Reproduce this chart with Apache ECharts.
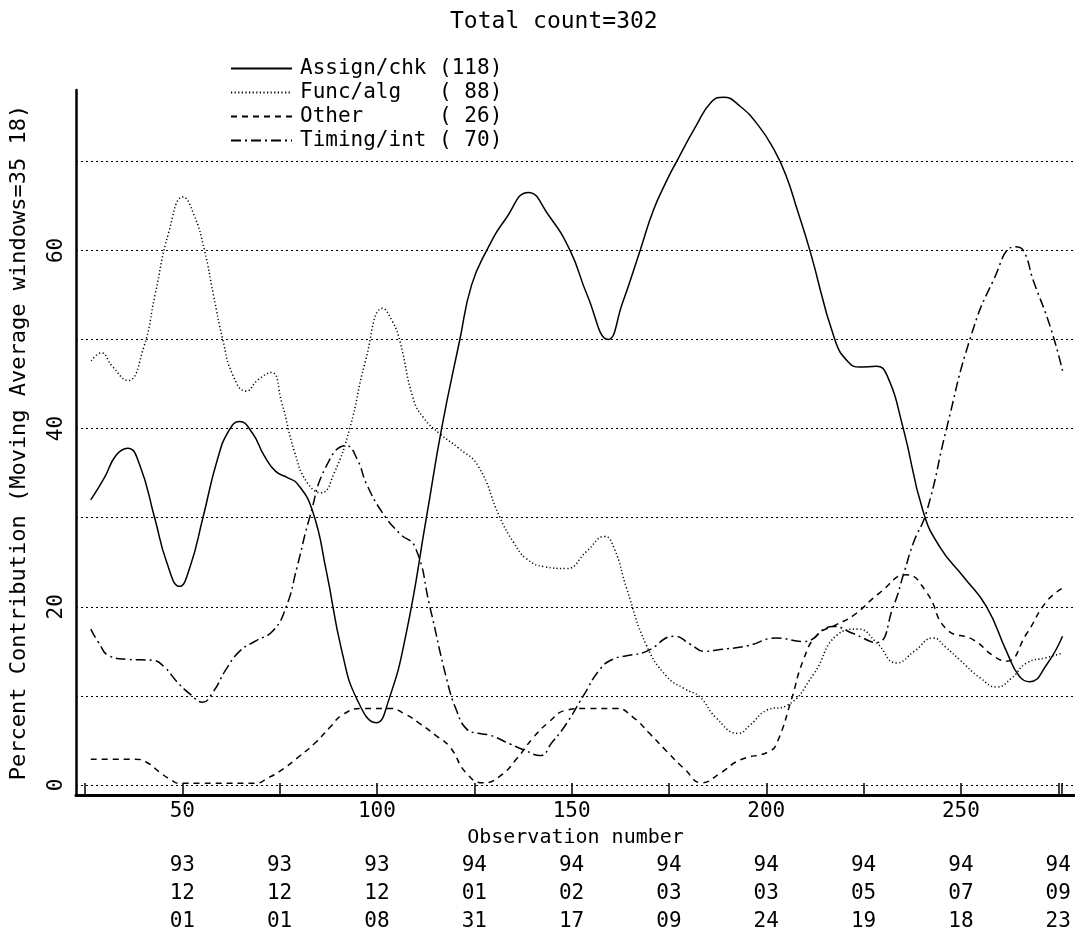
<!DOCTYPE html>
<html><head><meta charset="utf-8">
<script src="https://cdn.jsdelivr.net/npm/echarts@6/dist/echarts.min.js"></script>
<style>html,body{margin:0;padding:0;background:#fff}#c{width:1075px;height:933px}</style>
</head><body><div id="c"></div>
<script>
const chartTitle = 'Total count=302';
const seriesNames = ['Assign/chk', 'Func/alg', 'Other', 'Timing/int'];
const seriesCounts = [118, 88, 26, 70];

const assignChk = [[26.5,32],[30,34.5],[33,37],[36,37.8],[39,36],[42.9,30],[46,25],[49.3,22.3],[52,24.5],[55.3,30],[59,36.5],[62,39.8],[64.7,40.8],[68,39.5],[71,37],[74,35.2],[77,34.5],[79.6,33.8],[83.5,30.7],[87,24],[91,15],[95,9.5],[99.8,7.0],[103,9.5],[107.5,17],[112.7,30],[116.6,40],[121.3,50],[124.3,56.1],[128.2,60],[133,63.5],[138.9,66.5],[144,64],[149.6,60],[154,55],[159.4,50],[163,54],[167.6,60],[171,64.5],[174.4,67.8],[177,70],[182,74],[186,76.7],[189,77.2],[193.2,76.2],[198,74],[202,71.3],[205,68.5],[208,64.5],[211.2,60],[217.6,50],[221,47.5],[224,46.9],[228.3,47],[231,46],[235.2,40],[240.3,30.7],[244.6,26.7],[250.6,23.4],[256.6,20],[261.7,15],[265,12.2],[267.7,11.6],[272,13.5],[276.1,16.7]];

const funcAlg = [[26.6,47.6],[29.2,48.5],[32,47],[36,45.4],[40,49],[43,55],[46.5,62],[50.2,66.0],[53,64],[55.7,60],[58,55],[60.4,50],[63,46],[66.4,44.2],[69.5,45.5],[72.9,46.3],[75.5,43],[78.9,37.3],[82,34],[85.7,32.8],[89,35],[93,40],[97,47.5],[101.5,53.5],[104,52],[105.9,49.8],[109.3,43.4],[112,41.2],[116.2,39.4],[121,37.8],[126,35.8],[131.6,30],[135,27.3],[138.4,25.4],[143,24.5],[148.7,24.3],[153.8,26.2],[158.5,27.9],[161,26.5],[164.1,22.1],[169.2,15.7],[174.4,12.2],[179,10.8],[182.9,9.9],[187,7.6],[192.8,5.8],[196,6.8],[200.1,8.4],[205.2,8.9],[212.1,12.4],[218.1,16.8],[223.6,17.5],[228.3,16],[233.5,13.7],[238,15],[242.9,16.5],[246,15.5],[249.8,14],[255,12],[259.2,11],[263,12],[266.9,13.7],[272,14.3],[276.1,14.8]];

const other = [[26.5,2.9],[38,2.9],[41,2.5],[44,1.5],[47,0.6],[49.2,0.2],[55,0.2],[68.9,0.2],[72,0.8],[74.9,1.5],[80,3.2],[84.3,4.8],[88,6.5],[91.2,7.9],[96.3,8.6],[103.2,8.6],[107.5,7.9],[111,6.9],[115,5.6],[118.7,4.3],[123,1.3],[127.3,0.25],[131.6,1.0],[136,3],[140.1,5.3],[144,7],[148.7,8.4],[153.8,8.6],[161.5,8.6],[165.8,7.6],[170,5.8],[174.4,3.8],[179,1.8],[183.4,0.25],[188.1,1.3],[193.2,2.8],[200.9,3.8],[203,5],[206.4,9.5],[209.5,14],[213,16.8],[218,18],[222.3,19],[229.2,21.6],[236,23.6],[241.2,21.6],[246.3,17.5],[253.2,16.3],[258.3,14.5],[261.7,13.9],[266.9,17],[272,20.6],[276.1,22.1]];

const timingInt = [[26.5,17.5],[28.5,16],[31.2,14.5],[36,14.1],[42.4,14],[45.5,13.2],[48.4,11.7],[52,10.2],[55.2,9.3],[58,10.5],[61,12.8],[64.7,15],[69,16.2],[73.3,17.3],[76.7,20],[79.5,24.5],[82.7,30],[87,35.8],[92.1,38.1],[95,36.5],[97.3,33.8],[101.5,30.5],[105.9,28.2],[109.8,26.7],[113.6,20],[117.9,11.9],[120.5,8.3],[123,6.3],[126,5.8],[129,5.6],[134.2,4.6],[138,3.9],[141.9,3.3],[145,4.8],[148.7,6.9],[153,10],[157.3,13],[160.5,14.1],[164.1,14.5],[169.2,15],[176.5,16.7],[180.5,15.8],[184.2,15],[188.1,15.2],[195,15.6],[202.7,16.5],[209.5,16.1],[217.2,17.8],[222.3,17],[228.3,16],[232.6,20],[235.5,24],[237.8,27.2],[241.2,30.7],[246.3,40],[252.3,50],[258.3,56.6],[263.9,60.4],[266,60],[268.6,56.6],[272.9,51.5],[276.1,46.5]];

const xLabelValues = [50, 100, 150, 200, 250];
const xTickValues = [25, 50, 75, 100, 125, 150, 175, 200, 225, 250, 275, 276];
const dateTickValues = [50, 75, 100, 125, 150, 175, 200, 225, 250, 275];
const dateYY = ['93','93','93','94','94','94','94','94','94','94'];
const dateMM = ['12','12','12','01','02','03','03','05','07','09'];
const dateDD = ['01','01','08','31','17','09','24','19','18','23'];
const yLabelValues = [0, 20, 40, 60];
const yGridValues = [0, 10, 20, 30, 40, 50, 60, 70];

const FONT = 'DejaVu Sans Mono';
const X_MIN = 22.7, X_MAX = 279.3, Y_MIN = -1.12, Y_MAX = 78;
const dashTypes = ['solid', [1.2, 2.4], [6, 5], [10, 4, 2, 4]];
const seriesData = [assignChk, funcAlg, other, timingInt];

const chart = echarts.init(document.getElementById('c'), null, {renderer: 'canvas'});
chart.setOption({
  animation: false,
  backgroundColor: '#fff',
  title: {
    text: chartTitle, left: 445, top: 6,
    textStyle: {fontFamily: FONT, fontSize: 23, fontWeight: 'normal', color: '#000'}
  },
  legend: {
    orient: 'vertical', left: 225, top: 53,
    itemWidth: 61, itemHeight: 14, itemGap: 3,
    itemStyle: {opacity: 0},
    data: seriesNames,
    formatter: function (name) {
      const i = seriesNames.indexOf(name);
      return name.padEnd(11, ' ') + '(' + String(seriesCounts[i]).padStart(3, ' ') + ')';
    },
    textStyle: {fontFamily: FONT, fontSize: 21, lineHeight: 21, color: '#000', padding: [0, 0, 0, 3]}
  },
  grid: [
    {left: 76, right: 0, top: 90, bottom: 138, outerBoundsMode: 'none'},
    {left: 76, right: 0, top: 90, bottom: 138, outerBoundsMode: 'none'}
  ],
  xAxis: [{
    type: 'value', gridIndex: 0, min: X_MIN, max: X_MAX,
    name: 'Observation number', nameLocation: 'middle', nameGap: 33,
    nameTextStyle: {fontFamily: FONT, fontSize: 20, color: '#000'},
    axisLine: {show: true, onZero: false, lineStyle: {color: '#000', width: 3}},
    axisTick: {show: true, inside: true, length: 12, customValues: xTickValues, lineStyle: {color: '#000', width: 1.5}},
    axisLabel: {customValues: xLabelValues, margin: 6, fontFamily: FONT, fontSize: 21, color: '#000'},
    splitLine: {show: false}
  }, {
    type: 'value', gridIndex: 1, min: X_MIN, max: X_MAX, position: 'bottom',
    axisLine: {show: false}, axisTick: {show: false}, splitLine: {show: false},
    axisLabel: {
      customValues: dateTickValues, margin: 57, fontFamily: FONT, fontSize: 21, lineHeight: 28, color: '#000',
      formatter: function (v) {
        const i = dateTickValues.indexOf(v);
        return i < 0 ? '' : dateYY[i] + '\n' + dateMM[i] + '\n' + dateDD[i];
      }
    }
  }],
  yAxis: [{
    type: 'value', gridIndex: 0, min: Y_MIN, max: Y_MAX,
    name: 'Percent Contribution (Moving Average windows=35 18)', nameLocation: 'middle', nameRotate: 90, nameGap: 46,
    nameTextStyle: {fontFamily: FONT, fontSize: 22, color: '#000'},
    axisLine: {show: true, onZero: false, lineStyle: {color: '#000', width: 2.5}},
    axisTick: {show: false, customValues: yGridValues},
    axisLabel: {customValues: yLabelValues, rotate: 90, margin: 9, fontFamily: FONT, fontSize: 21, color: '#000'},
    splitLine: {show: true, lineStyle: {color: '#000', width: 1, type: [2, 3]}}
  }, {
    type: 'value', gridIndex: 1, min: Y_MIN, max: Y_MAX, show: false
  }],
  series: seriesNames.map(function (n, i) {
    return {
      name: n, type: 'line', xAxisIndex: 0, yAxisIndex: 0,
      data: seriesData[i], smooth: 0.5,
      symbol: 'none', showSymbol: false,
      lineStyle: {color: '#000', width: 1.5, type: dashTypes[i]},
      itemStyle: {color: '#000'}
    };
  })
});
</script></body></html>
